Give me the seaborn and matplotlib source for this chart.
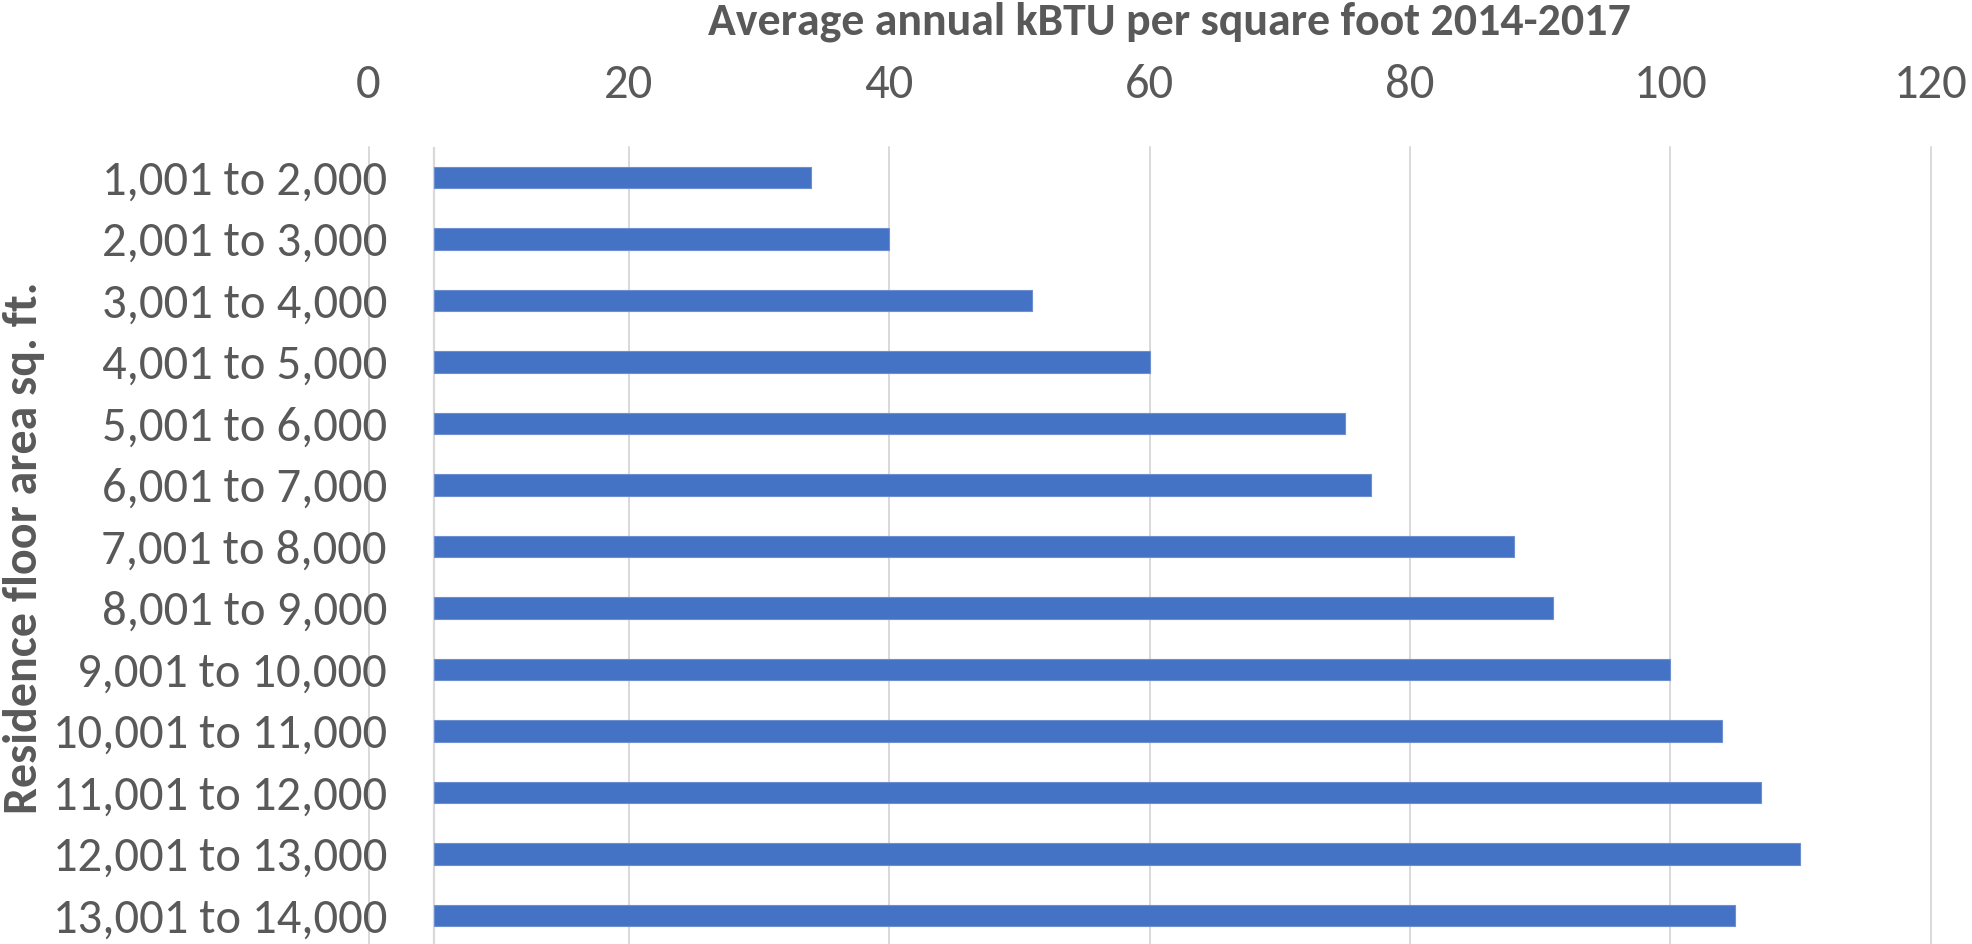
import matplotlib
matplotlib.use("Agg")
import matplotlib.pyplot as plt
from matplotlib import font_manager
import seaborn as sns

# Floor-area bands and their average annual energy intensity
categories = [
    "1,001 to 2,000", "2,001 to 3,000", "3,001 to 4,000", "4,001 to 5,000",
    "5,001 to 6,000", "6,001 to 7,000", "7,001 to 8,000", "8,001 to 9,000",
    "9,001 to 10,000", "10,001 to 11,000", "11,001 to 12,000",
    "12,001 to 13,000", "13,001 to 14,000",
]
kbtu_per_sqft = [34, 40, 51, 60, 75, 77, 88, 91, 100, 104, 107, 110, 105]
x_ticks = [0, 20, 40, 60, 80, 100, 120]

title = "Average annual kBTU per square foot 2014-2017"
y_title = "Residence floor area sq. ft."

# Value at which the category axis crosses; bars grow from here
AXIS_CROSSING = 5

BAR_COLOR = "#4472C4"
TEXT_COLOR = "#595959"
GRID_COLOR = "#D9D9D9"

installed = {f.name for f in font_manager.fontManager.ttflist}
family = next(f for f in ["Carlito", "Calibri", "Lato", "Open Sans", "DejaVu Sans"]
              if f in installed)

sns.set_theme(style="white")
plt.rcParams["font.family"] = [family, "DejaVu Sans"]

W, H = 1972, 944
fig = plt.figure(figsize=(W / 100, H / 100), dpi=100)
ax = fig.add_axes([368.5 / W, -2.1 / H, 1562.1 / W, 799.5 / H])

sns.barplot(x=kbtu_per_sqft, y=categories, orient="h", color=BAR_COLOR,
            width=0.35, saturation=1, edgecolor="#6d8fd0", linewidth=0.8,
            ax=ax, zorder=3)

# Bars start at the axis crossing value, as in the original spreadsheet chart
for patch in ax.patches:
    w = patch.get_width()
    patch.set_x(AXIS_CROSSING)
    patch.set_width(w - AXIS_CROSSING)

ax.set_xlim(x_ticks[0], x_ticks[-1])
ax.set_xticks(x_ticks)
ax.xaxis.tick_top()
ax.grid(axis="x", color=GRID_COLOR, linewidth=1.4, zorder=0)
ax.grid(axis="y", visible=False)
ax.set_axisbelow(True)
for gl in ax.get_xgridlines():
    gl.set_clip_on(False)
ax.axvline(AXIS_CROSSING, color=GRID_COLOR, linewidth=1.6, zorder=1)

for s in ax.spines.values():
    s.set_visible(False)

tick_size = 35
ax.tick_params(axis="x", length=0, pad=29, labelsize=tick_size, colors=TEXT_COLOR)
ax.tick_params(axis="y", length=0, pad=-13.3, labelsize=tick_size, colors=TEXT_COLOR)
for lab in ax.get_yticklabels():
    lab.set_zorder(5)
ax.set_xlabel("")
ax.set_ylabel("")

fig.text(1169 / W, 1 - 22 / H, title, ha="center", va="center",
         fontsize=33, fontweight="bold", color=TEXT_COLOR)
fig.text(24 / W, 1 - 548 / H, y_title, ha="center", va="center", rotation=90,
         fontsize=34.5, fontweight="bold", color=TEXT_COLOR)

fig.savefig("out.png", dpi=100, facecolor="white")
